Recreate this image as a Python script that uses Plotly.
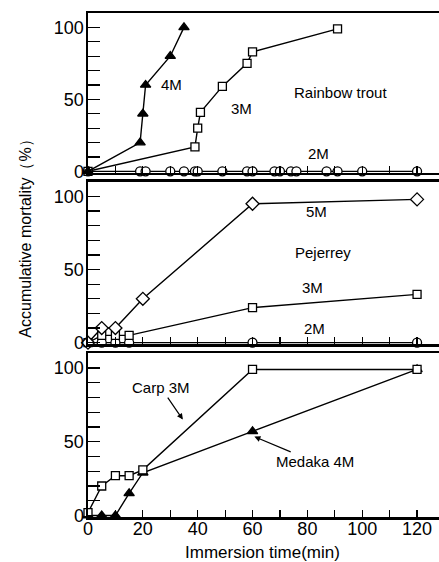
import plotly.graph_objects as go

# ---------------- data ----------------
# Rainbow trout
rt4_x = [0, 19, 20, 21, 30, 35]
rt4_y = [0, 20, 40, 60, 80, 100]
rt3_x = [0, 39, 40, 41, 49, 58, 60, 91]
rt3_y = [0, 17, 30, 41, 59, 75, 83, 99]
rt2_x = [0, 19, 21, 30, 35, 39, 40, 49, 58, 60, 68, 70, 74, 76, 87, 91, 100, 120]
rt2_y = [0] * len(rt2_x)

# Pejerrey
pj5_x = [0, 5, 10, 20, 60, 120]
pj5_y = [0, 10, 10, 30, 95, 98]
pj3_x = [0, 5, 10, 15, 60, 120]
pj3_y = [0, 5, 5, 5, 24, 33]
pj2_x = [0, 5, 10, 15, 60, 120]
pj2_y = [0, 0, 0, 0, 0, 0]

# Carp / Medaka
carp_x = [0, 5, 10, 15, 20, 60, 120]
carp_y = [2, 20, 27, 27, 31, 99, 99]
med_x = [0, 5, 10, 15, 20, 60, 120]
med_y = [0, 0, 0, 15, 29, 57, 99]

x_ticks = list(range(0, 121, 10))
x_ticklabels = [str(v) if v % 20 == 0 else "" for v in x_ticks]
y_ticks = list(range(0, 101, 10))
y_ticklabels = [str(v) if v % 50 == 0 else "" for v in y_ticks]

FONT = "Liberation Sans, Arial, sans-serif"

fig = go.Figure()

def add(x, y, xa, ya, symbol, filled, size=8):
    fig.add_trace(go.Scatter(
        x=x, y=y, xaxis=xa, yaxis=ya, mode="lines+markers",
        line=dict(color="black", width=1.4),
        marker=dict(symbol=symbol, size=size, color="black" if filled else "white",
                    line=dict(color="black", width=1.3)),
        cliponaxis=False, showlegend=False, hoverinfo="skip"))

# top panel (x, y)
add(rt2_x, rt2_y, "x", "y", "circle", False, 9)
add(rt3_x, rt3_y, "x", "y", "square", False, 8)
add(rt4_x, rt4_y, "x", "y", "triangle-up", True, 9)
# middle panel (x2, y2)
add(pj2_x, pj2_y, "x2", "y2", "circle", False, 9)
add(pj3_x, pj3_y, "x2", "y2", "square", False, 8)
add(pj5_x, pj5_y, "x2", "y2", "diamond", False, 10)
# bottom panel (x3, y3)
add(med_x, med_y, "x3", "y3", "triangle-up", True, 9)
add(carp_x, carp_y, "x3", "y3", "square", False, 8)

doms = {"": [0.683, 1.0], "2": [0.343, 0.665], "3": [0.0, 0.325]}

for suf, dom in doms.items():
    bottom = suf == "3"
    fig.update_layout(**{
        "xaxis" + suf: dict(
            domain=[0, 1], range=[0, 128], anchor="y" + suf,
            tickvals=x_ticks, ticktext=x_ticklabels if bottom else [""] * len(x_ticks),
            showticklabels=bottom, ticklabelstandoff=-6,
            ticks="inside", ticklen=7, tickwidth=1.2, tickcolor="black",
            showline=True, linecolor="black", linewidth=2.5, mirror=True,
            showgrid=False, zeroline=False,
            tickfont=dict(family=FONT, size=18, color="black")),
        "yaxis" + suf: dict(
            domain=dom, range=[-1, 110], anchor="x" + suf,
            tickvals=y_ticks, ticktext=y_ticklabels, ticklabelstandoff=-2,
            ticks="inside", ticklen=12, tickwidth=1.2, tickcolor="black",
            showline=True, linecolor="black", linewidth=2.5,
            showgrid=False, zeroline=False,
            tickfont=dict(family=FONT, size=18, color="black")),
    })

ann_font = dict(family=FONT, size=15, color="black")
annotations = [
    dict(x=30.6, y=60, xref="x", yref="y", text="4M"),
    dict(x=56, y=44, xref="x", yref="y", text="3M"),
    dict(x=92, y=55, xref="x", yref="y", text="Rainbow trout"),
    dict(x=84, y=12.5, xref="x", yref="y", text="2M"),
    dict(x=83.4, y=89.6, xref="x2", yref="y2", text="5M"),
    dict(x=85.6, y=61.8, xref="x2", yref="y2", text="Pejerrey"),
    dict(x=82, y=37.5, xref="x2", yref="y2", text="3M"),
    dict(x=82.7, y=9.7, xref="x2", yref="y2", text="2M"),
]
for a in annotations:
    a.update(showarrow=False, font=ann_font)

annotations += [
    dict(x=34.6, y=65, xref="x3", yref="y3", text="Carp 3M", showarrow=True,
         ax=-22, ay=-32, arrowhead=2, arrowsize=1, arrowwidth=1.2, arrowcolor="black",
         standoff=0, font=ann_font),
    dict(x=60, y=54, xref="x3", yref="y3", text="Medaka 4M", showarrow=True,
         ax=62, ay=26, arrowhead=2, arrowsize=1, arrowwidth=1.2, arrowcolor="black",
         standoff=2, font=ann_font),
    dict(x=-0.177, y=0.56, xref="paper", yref="paper", text="Accumulative mortality（%）",
         xanchor="center", yanchor="middle",
         textangle=-90, showarrow=False, font=dict(family=FONT, size=16, color="black")),
    dict(x=0.496, y=-0.071, xref="paper", yref="paper", text="Immersion time(min)",
         xanchor="center", yanchor="middle",
         showarrow=False, font=dict(family=FONT, size=17, color="black")),
]

fig.update_layout(
    width=439, height=562,
    margin=dict(l=88, r=0, t=13, b=45),
    paper_bgcolor="white", plot_bgcolor="white",
    annotations=annotations,
    showlegend=False,
    hovermode=False,
)

fig.write_html(
    "out.html",
    config={"displayModeBar": False, "staticPlot": True},
    post_script="document.body.style.margin='0';document.body.style.overflow='hidden';",
)
